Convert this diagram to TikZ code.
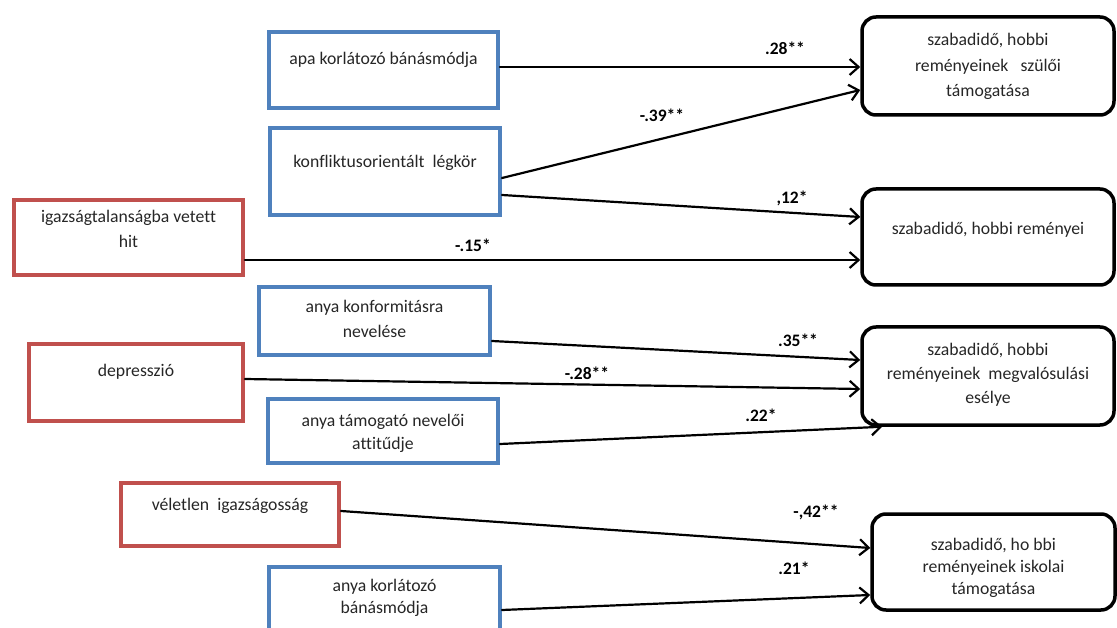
\documentclass[tikz,border=0pt]{standalone}
\usepackage{fontspec}
\setmainfont{Carlito}[Ligatures=NoCommon]
\usetikzlibrary{arrows.meta}
\definecolor{boxblue}{RGB}{79,129,189}
\definecolor{boxred}{RGB}{192,80,77}
\begin{document}
\begin{tikzpicture}[x=1pt,y=-1pt,line cap=round,
    every node/.style={align=center,inner sep=0pt,text=black!85},
    lsk/.style={font=\fontsize{17.7}{#1}\selectfont},
    lsk/.default=25,
    up/.style={text height=0pt,text depth=#1},
    down/.style={text height=#1,text depth=0pt},
    inbox/.style={draw=#1,line width=4pt,lsk},
    outbox/.style={draw=black,line width=3.5pt,rounded corners=14pt,lsk},
    lbl/.style={font=\bfseries\fontsize{17.5}{20}\selectfont,text=black},
    arr/.style={line width=2.2pt,-{Straight Barb[length=9pt,width=16pt]}}]
  \useasboundingbox (0,0) rectangle (1117,628);
  \clip (0,0) rectangle (1117,628);

  % predictors
  \node[inbox=boxblue,minimum width=229pt,minimum height=76pt,up=10pt] (apa) at (383.5,70) {apa korlátozó bánásmódja};
  \node[inbox=boxblue,minimum width=230pt,minimum height=87pt,up=7pt] (konf) at (385,171.5) {konfliktusorientált\ \ légkör};
  \node[inbox=boxred,minimum width=229pt,minimum height=75pt,down=21pt] (igaz) at (128.5,237.5) {igazságtalanságba vetett\\hit};
  \node[inbox=boxblue,minimum width=231pt,minimum height=68pt,down=34pt] (konform) at (374.5,321) {anya konformitásra\\nevelése};
  \node[inbox=boxred,minimum width=214pt,minimum height=77pt,up=11pt] (depr) at (136,382.5) {depresszió};
  \node[inbox=boxblue,minimum width=230pt,minimum height=64pt,down=36pt,lsk=23] (tamog) at (383,431) {anya támogató nevelői\\attitűdje};
  \node[inbox=boxred,minimum width=218pt,minimum height=63pt,up=9pt] (velet) at (230,514.5) {véletlen\ \ igazságosság};
  \node[inbox=boxblue,minimum width=231pt,minimum height=66pt,down=26pt,lsk=21.5] (anyakorl) at (384.5,600) {anya korlátozó\\bánásmódja};

  % outcomes
  \node[outbox,minimum width=252pt,minimum height=98pt,down=62pt,lsk=25.5] (szt) at (988,66) {szabadidő, hobbi\\reményeinek\ \ \ szülői\\támogatása};
  \node[outbox,minimum width=252pt,minimum height=96pt,up=4pt] (srem) at (988,237) {szabadidő, hobbi reményei};
  \node[outbox,minimum width=252pt,minimum height=98pt,down=54pt,lsk=24] (sesely) at (988,376) {szabadidő, hobbi\\reményeinek\ \ megvalósulási\\esélye};
  \node[outbox,minimum width=243pt,minimum height=96pt,down=64pt,lsk=22] (siskola) at (993.5,562) {szabadidő, ho bbi\\reményeinek iskolai\\támogatása};

  % paths
  \draw[arr] ([yshift=3pt]apa.east) -- ([yshift=-1pt]szt.west);
  \draw[arr] ([yshift=-6.5pt]konf.east) -- ([yshift=-24pt]szt.west);
  \draw[arr] ([yshift=-23.5pt]konf.east) -- ([yshift=20pt]srem.west);
  \draw[arr] ([yshift=-22.5pt]igaz.east) -- ([yshift=-23pt]srem.west);
  \draw[arr] ([yshift=-20pt]konform.east) -- ([yshift=16pt]sesely.west);
  \draw[arr] ([yshift=3.5pt]depr.east) -- ([yshift=-13pt]sesely.west);
  \draw[arr] ([yshift=-13pt]tamog.east) -- ([xshift=22pt]sesely.south west);
  \draw[arr] ([yshift=3.5pt]velet.east) -- ([yshift=14pt]siskola.west);
  \draw[arr] ([yshift=-10pt]anyakorl.east) -- ([yshift=-33pt]siskola.west);

  % weights
  \node[lbl] (w1) at (785,48) {.28**};
  \node[lbl] (w2) at (662,115) {-.39**};
  \node[lbl] (w3) at (792,198) {,12*};
  \node[lbl] (w4) at (473,245) {-.15*};
  \node[lbl] (w5) at (798,340) {.35**};
  \node[lbl] (w6) at (587,373) {-.28**};
  \node[lbl] (w7) at (761,415) {.22*};
  \node[lbl] (w8) at (816,512) {-,42**};
  \node[lbl] (w9) at (794,568) {.21*};
\end{tikzpicture}
\end{document}
